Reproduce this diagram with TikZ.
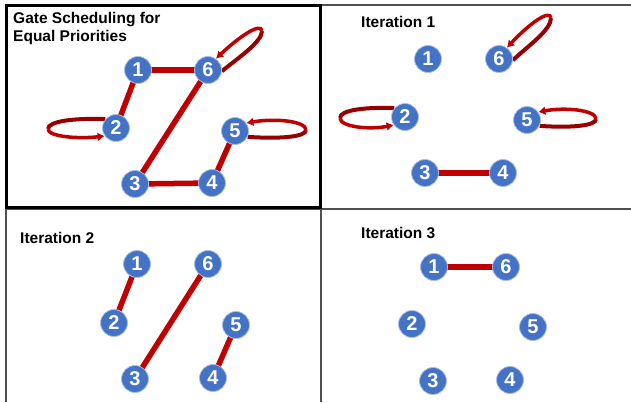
\documentclass[tikz,border=0pt]{standalone}
\usepackage{fontspec}
\setsansfont{Liberation Sans}
\usetikzlibrary{arrows.meta,backgrounds}
\definecolor{gateblue}{RGB}{68,114,196}
\definecolor{gateedge}{RGB}{170,190,228}
\definecolor{linkred}{RGB}{192,0,0}
\definecolor{loopdark}{RGB}{150,0,0}
\definecolor{gridgray}{RGB}{80,80,80}

\begin{document}
\begin{tikzpicture}[x=1pt,y=-1pt,
    gate/.style={circle,fill=gateblue,draw=gateedge,line width=0.8pt,minimum size=27pt,inner sep=0pt,
      text=white,font=\sffamily\bfseries\fontsize{20}{20}\selectfont},
    link/.style={linkred,line width=5.5pt},
    loopback/.style={loopdark,line width=4pt},
    loopfront/.style={linkred,line width=3.5pt,-{Latex[length=7pt,width=9pt]}},
    ttl/.style={anchor=base west,inner sep=0pt,font=\sffamily\bfseries\fontsize{15.5}{18}\selectfont}]
  \useasboundingbox (0,0) rectangle (631,402);
  % table lines
  \draw[gridgray,line width=1.5pt] (6,5) -- (631,5);
  \draw[gridgray,line width=1.5pt] (6,5) -- (6,402);
  \draw[gridgray,line width=1.5pt] (321,5) -- (321,402);
  \draw[gridgray,line width=1.5pt] (6,209) -- (631,209);
  \draw[black,line width=3pt] (6,5) rectangle (320,207);
  % titles
  \node[ttl,align=left,anchor=north west] (ttl1) at (13,12) {Gate Scheduling for\\Equal Priorities};
  \node[ttl] (ttl2) at (361,27) {Iteration 1};
  \node[ttl] (ttl3) at (20,243) {Iteration 2};
  \node[ttl] (ttl4) at (361,238) {Iteration 3};
  % gates
  \foreach \n/\x/\y in {1/138/70,2/116/128,3/135/184,4/212/183,5/235/131,6/208/70}
    \node[gate] (a\n) at (\x,\y) {\n};
  \foreach \n/\x/\y in {1/428/59,2/405/117,3/425/173,4/503/173,5/527/120,6/499/59}
    \node[gate] (b\n) at (\x,\y) {\n};
  \foreach \n/\x/\y in {1/137/264,2/114/323,3/135/379,4/213/378,5/236/325,6/208/264}
    \node[gate] (c\n) at (\x,\y) {\n};
  \foreach \n/\x/\y in {1/434/267,2/412/324,3/433/381,4/510/380,5/533/327,6/506/267}
    \node[gate] (d\n) at (\x,\y) {\n};
  \begin{scope}[on background layer]
    % pairs
    \draw[link] (a1.center) -- (a6.center);
    \draw[link] (a1.center) -- (a2.center);
    \draw[link] (a6.center) -- (a3.center);
    \draw[link] (a3.center) -- (a4.center);
    \draw[link] (a4.center) -- (a5.center);
    \draw[link] (b3.center) -- (b4.center);
    \draw[link] (c1.center) -- (c2.center);
    \draw[link] (c6.center) -- (c3.center);
    \draw[link] (c5.center) -- (c4.center);
    \draw[link] (d1.center) -- (d6.center);
    % self loops
    \coordinate (a2far) at (48,129);
    \draw[loopback] (a2.140) .. controls (75,118) and (48,121) .. (a2far);
    \draw[loopfront] (a2far) .. controls (48,137) and (80,139) .. (a2.215);
    \coordinate (a5far) at (306,130);
    \draw[loopback] (a5.-25) .. controls (280,139) and (306,137) .. (a5far);
    \draw[loopfront] (a5far) .. controls (306,121) and (275,118) .. (a5.35);
    \coordinate (a6far) at (262,31);
    \draw[loopback] (a6.-5) .. controls (238,58) and (262,42) .. (a6far);
    \draw[loopfront] (a6far) .. controls (261,22) and (240,36) .. (a6.55);
    \coordinate (b2far) at (340,118);
    \draw[loopback] (b2.140) .. controls (365,107) and (340,110) .. (b2far);
    \draw[loopfront] (b2far) .. controls (340,127) and (370,130) .. (b2.215);
    \coordinate (b5far) at (596,119);
    \draw[loopback] (b5.-25) .. controls (570,128) and (596,126) .. (b5far);
    \draw[loopfront] (b5far) .. controls (596,110) and (565,107) .. (b5.35);
    \coordinate (b6far) at (551,18);
    \draw[loopback] (b6.-5) .. controls (528,46) and (551,30) .. (b6far);
    \draw[loopfront] (b6far) .. controls (550,9) and (530,23) .. (b6.55);
  \end{scope}
\end{tikzpicture}
\end{document}
